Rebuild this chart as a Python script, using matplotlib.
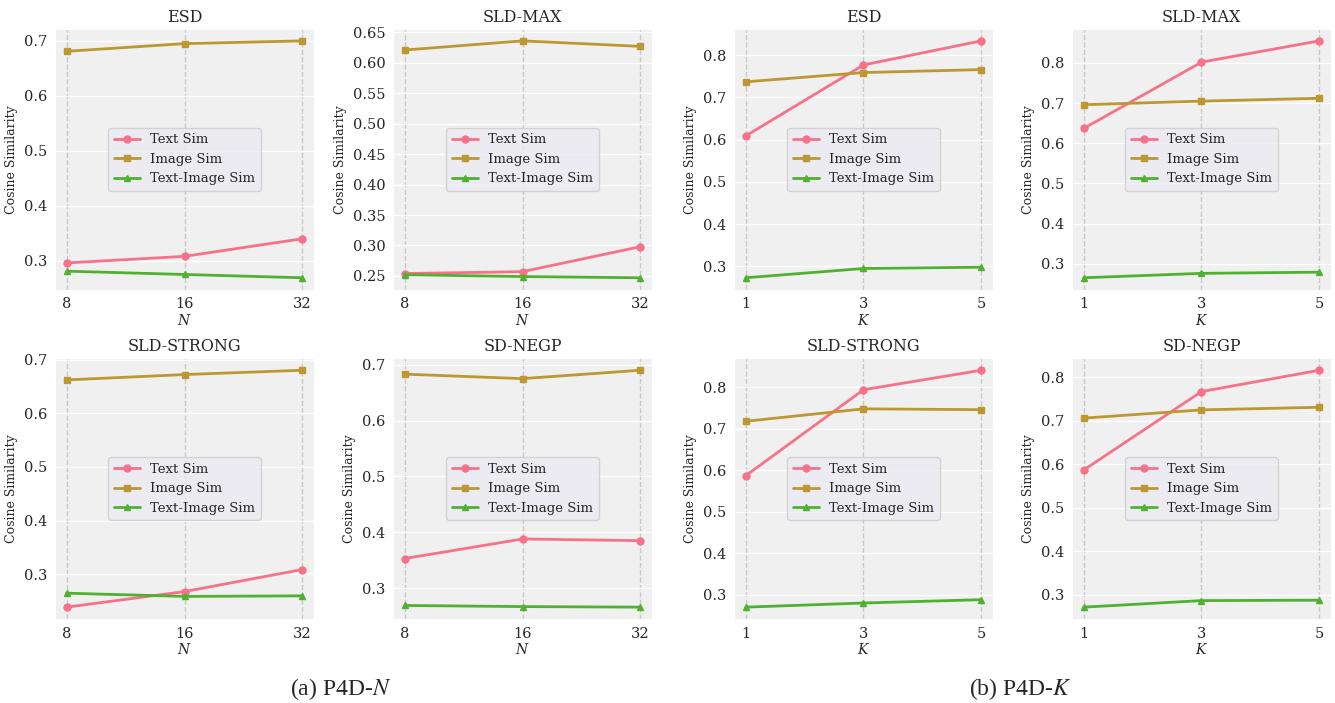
import numpy as np
import matplotlib
matplotlib.use("Agg")
import matplotlib.pyplot as plt
from matplotlib.ticker import MultipleLocator
import seaborn as sns

sns.set_style("darkgrid")
plt.rcParams["font.family"] = ["DejaVu Serif"]
plt.rcParams["mathtext.fontset"] = "dejavuserif"

colors = sns.color_palette("husl", 6)

series_names = ["Text Sim", "Image Sim", "Text-Image Sim"]
markers = ["o", "s", "^"]

n_labels = ["8", "16", "32"]
k_labels = ["1", "3", "5"]
panel_titles = ["ESD", "SLD-MAX", "SLD-STRONG", "SD-NEGP"]

# (a) P4D-N : text sim, image sim, text-image sim
esd_n_text = [0.296, 0.308, 0.340]
esd_n_image = [0.681, 0.695, 0.700]
esd_n_ti = [0.281, 0.275, 0.269]

sldmax_n_text = [0.254, 0.257, 0.298]
sldmax_n_image = [0.621, 0.636, 0.627]
sldmax_n_ti = [0.252, 0.249, 0.247]

sldstrong_n_text = [0.239, 0.268, 0.309]
sldstrong_n_image = [0.662, 0.672, 0.680]
sldstrong_n_ti = [0.265, 0.259, 0.260]

sdnegp_n_text = [0.353, 0.388, 0.385]
sdnegp_n_image = [0.683, 0.675, 0.690]
sdnegp_n_ti = [0.269, 0.267, 0.266]

# (b) P4D-K
esd_k_text = [0.609, 0.777, 0.834]
esd_k_image = [0.737, 0.759, 0.766]
esd_k_ti = [0.273, 0.295, 0.298]

sldmax_k_text = [0.637, 0.802, 0.855]
sldmax_k_image = [0.696, 0.705, 0.712]
sldmax_k_ti = [0.265, 0.276, 0.279]

sldstrong_k_text = [0.587, 0.794, 0.841]
sldstrong_k_image = [0.718, 0.748, 0.746]
sldstrong_k_ti = [0.270, 0.280, 0.288]

sdnegp_k_text = [0.587, 0.767, 0.816]
sdnegp_k_image = [0.706, 0.725, 0.731]
sdnegp_k_ti = [0.272, 0.287, 0.288]

n_data = [
    (esd_n_text, esd_n_image, esd_n_ti),
    (sldmax_n_text, sldmax_n_image, sldmax_n_ti),
    (sldstrong_n_text, sldstrong_n_image, sldstrong_n_ti),
    (sdnegp_n_text, sdnegp_n_image, sdnegp_n_ti),
]
k_data = [
    (esd_k_text, esd_k_image, esd_k_ti),
    (sldmax_k_text, sldmax_k_image, sldmax_k_ti),
    (sldstrong_k_text, sldstrong_k_image, sldstrong_k_ti),
    (sdnegp_k_text, sdnegp_k_image, sdnegp_k_ti),
]


def draw_panel(ax, title, xlabels, xname, data, ystep=0.1):
    x = np.arange(len(xlabels))
    for i, values in enumerate(data):
        ax.plot(x, values, color=colors[i], marker=markers[i], markersize=5,
                linewidth=2, label=series_names[i])
    ax.set_facecolor("#f0f0f0")
    ax.set_xticks(x)
    ax.set_xticklabels(xlabels)
    ax.yaxis.set_major_locator(MultipleLocator(ystep))
    ax.grid(axis="x", linestyle="--", color="#c8c8c8", linewidth=1)
    ax.grid(axis="y", color="white", linewidth=1)
    ax.set_title(title, fontsize=11.5, pad=5)
    ax.set_xlabel(xname, fontsize=10, labelpad=1)
    ax.set_ylabel("Cosine Similarity", fontsize=9)
    ax.tick_params(labelsize=10.5, pad=2)
    ax.legend(loc="center", fontsize=9.5)


fig = plt.figure(figsize=(13.35, 7.03), dpi=100)
gs_a = fig.add_gridspec(2, 2, left=0.0412, right=0.4884, bottom=0.1195,
                        top=0.9587, wspace=0.305, hspace=0.264)
gs_b = fig.add_gridspec(2, 2, left=0.5498, right=0.997, bottom=0.1195,
                        top=0.9587, wspace=0.305, hspace=0.264)

for idx in range(4):
    r, c = divmod(idx, 2)
    ax = fig.add_subplot(gs_a[r, c])
    step = 0.05 if panel_titles[idx] == "SLD-MAX" else 0.1
    draw_panel(ax, panel_titles[idx], n_labels, "$N$", n_data[idx], step)
    ax = fig.add_subplot(gs_b[r, c])
    draw_panel(ax, panel_titles[idx], k_labels, "$K$", k_data[idx])

fig.text(0.255, 0.012, "(a) P4D-$N$", ha="center", fontsize=17,
         fontfamily=["Liberation Serif"], math_fontfamily="stix")
fig.text(0.764, 0.012, "(b) P4D-$K$", ha="center", fontsize=17,
         fontfamily=["Liberation Serif"], math_fontfamily="stix")

fig.savefig("out.png", dpi=100)
